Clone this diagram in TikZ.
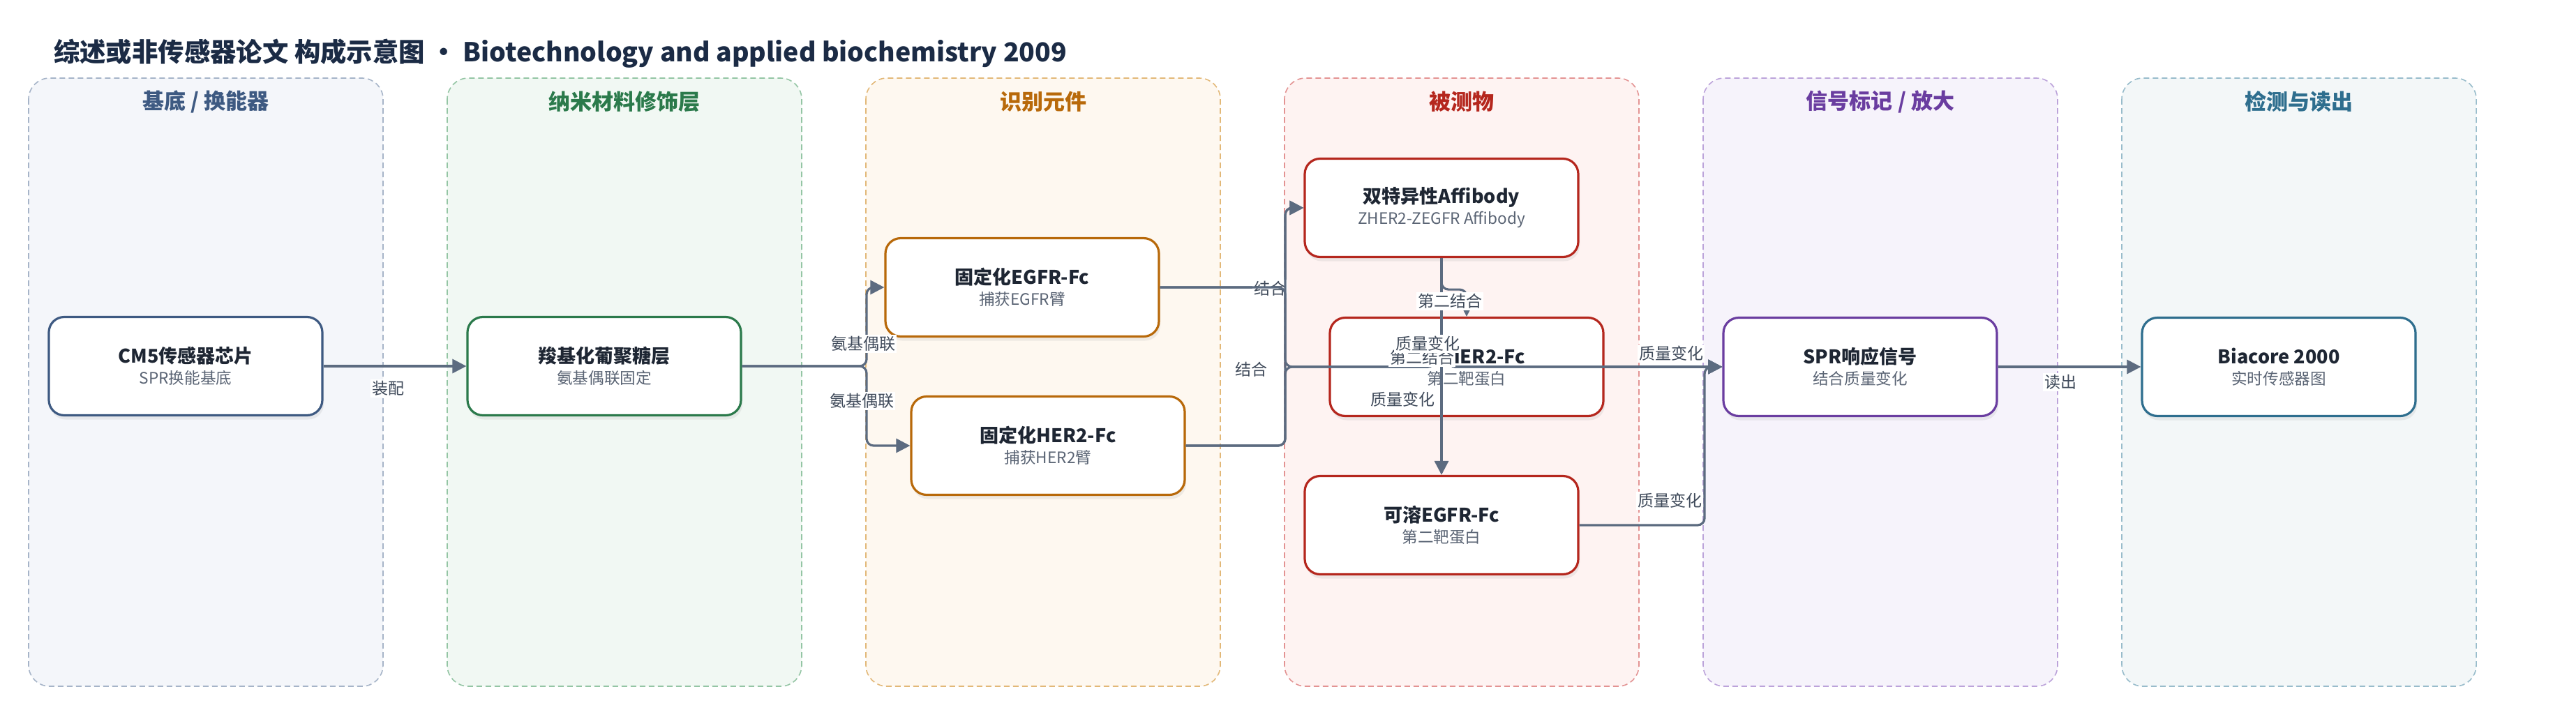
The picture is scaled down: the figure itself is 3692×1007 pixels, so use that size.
\documentclass[tikz,border=0pt]{standalone}
\usepackage{fontspec}
\setmainfont{Noto Sans CJK SC}
\usepackage{tikz}
\usetikzlibrary{arrows.meta, shadows}

\definecolor{titlecol}{HTML}{1B2B45}
\definecolor{nodetext}{HTML}{1E2633}
\definecolor{subcol}{HTML}{5A6474}
\definecolor{lblcol}{HTML}{3F4A5A}
\definecolor{linkcol}{HTML}{5C6B80}
\definecolor{laneAfill}{HTML}{F4F6FA}
\definecolor{laneAline}{HTML}{A6B4C8}
\definecolor{laneAtext}{HTML}{3E5A82}
\definecolor{laneBfill}{HTML}{F1F8F3}
\definecolor{laneBline}{HTML}{94C5A4}
\definecolor{laneBtext}{HTML}{2B7A4B}
\definecolor{laneCfill}{HTML}{FEF8F0}
\definecolor{laneCline}{HTML}{E2B878}
\definecolor{laneCtext}{HTML}{B8690A}
\definecolor{laneDfill}{HTML}{FEF3F2}
\definecolor{laneDline}{HTML}{E39393}
\definecolor{laneDtext}{HTML}{B5271E}
\definecolor{laneEfill}{HTML}{F6F3FB}
\definecolor{laneEline}{HTML}{BCA3DA}
\definecolor{laneEtext}{HTML}{6A3DA0}
\definecolor{laneFfill}{HTML}{F3F7F8}
\definecolor{laneFline}{HTML}{98BCCB}
\definecolor{laneFtext}{HTML}{2E6E8E}

\begin{document}
\begin{tikzpicture}[x=0.5pt, y=-0.5pt, line width=1pt,
    lane/.style={rounded corners=15pt, dash pattern=on 4pt off 2.5pt, line width=0.8pt},
    lanetitle/.style={font=\bfseries\fontsize{15.5}{18}\selectfont},
    box/.style={draw, fill=white, text=nodetext, line width=1.6pt, rounded corners=11pt,
      minimum width=196pt, minimum height=70.5pt, align=center,
      font=\fontsize{11.3}{13}\selectfont,
      drop shadow={shadow xshift=1pt, shadow yshift=-3pt, opacity=0.12}},
    link/.style={draw=linkcol, line width=1.6pt, rounded corners=5pt,
      -{Triangle[length=10pt, width=10pt]}},
    lbl/.style={fill=white, text=lblcol, inner sep=1pt, font=\fontsize{11.5}{13}\selectfont}]
    \useasboundingbox (0,0) rectangle (3692,1007);

    % draw lanes
    \filldraw[lane, draw=laneAline, fill=laneAfill] (41,112) rectangle (549,984);
    \filldraw[lane, draw=laneBline, fill=laneBfill] (641,112) rectangle (1149,984);
    \filldraw[lane, draw=laneCline, fill=laneCfill] (1241,112) rectangle (1749,984);
    \filldraw[lane, draw=laneDline, fill=laneDfill] (1841,112) rectangle (2349,984);
    \filldraw[lane, draw=laneEline, fill=laneEfill] (2441,112) rectangle (2949,984);
    \filldraw[lane, draw=laneFline, fill=laneFfill] (3041,112) rectangle (3549,984);

    \node[lanetitle, text=laneAtext] (laneA) at (295,146) {基底 / 换能器};
    \node[lanetitle, text=laneBtext] (laneB) at (895,146) {纳米材料修饰层};
    \node[lanetitle, text=laneCtext] (laneC) at (1495,146) {识别元件};
    \node[lanetitle, text=laneDtext] (laneD) at (2095,146) {被测物};
    \node[lanetitle, text=laneEtext] (laneE) at (2695,146) {信号标记 / 放大};
    \node[lanetitle, text=laneFtext] (laneF) at (3295,146) {检测与读出};

    % title
    \node[anchor=west, inner sep=0pt, text=titlecol, font=\bfseries\fontsize{18.7}{22}\selectfont]
      (title) at (76,77) {综述或非传感器论文 构成示意图 • Biotechnology and applied biochemistry 2009};

    % draw boxes
    \node[box, draw=laneAtext] (chip) at (266,525)
      {{\bfseries\fontsize{13.5}{16}\selectfont CM5传感器芯片}\\[2pt]{\color{subcol}SPR换能基底}};
    \node[box, draw=laneBtext] (dex) at (866,525)
      {{\bfseries\fontsize{13.5}{16}\selectfont 羧基化葡聚糖层}\\[2pt]{\color{subcol}氨基偶联固定}};
    \node[box, draw=laneCtext] (egfr) at (1465,412)
      {{\bfseries\fontsize{13.5}{16}\selectfont 固定化EGFR-Fc}\\[2pt]{\color{subcol}捕获EGFR臂}};
    \node[box, draw=laneCtext] (her2) at (1502,639)
      {{\bfseries\fontsize{13.5}{16}\selectfont 固定化HER2-Fc}\\[2pt]{\color{subcol}捕获HER2臂}};
    \node[box, draw=laneDtext] (affi) at (2066,298)
      {{\bfseries\fontsize{13.5}{16}\selectfont 双特异性Affibody}\\[2pt]{\color{subcol}ZHER2-ZEGFR Affibody}};
    \node[box, draw=laneDtext] (sher2) at (2102,526)
      {{\bfseries\fontsize{13.5}{16}\selectfont 可溶HER2-Fc}\\[2pt]{\color{subcol}第二靶蛋白}};
    \node[box, draw=laneDtext] (segfr) at (2066,753)
      {{\bfseries\fontsize{13.5}{16}\selectfont 可溶EGFR-Fc}\\[2pt]{\color{subcol}第二靶蛋白}};
    \node[box, draw=laneEtext] (spr) at (2666,526)
      {{\bfseries\fontsize{13.5}{16}\selectfont SPR响应信号}\\[2pt]{\color{subcol}结合质量变化}};
    \node[box, draw=laneFtext] (bia) at (3266,526)
      {{\bfseries\fontsize{13.5}{16}\selectfont Biacore 2000}\\[2pt]{\color{subcol}实时传感器图}};

    % bend points
    \coordinate (fork) at (1242,525);
    \coordinate (bus) at (1842,526);
    \coordinate (drop) at (2443,526);

    % draw links
    \draw[link] (chip.east) -- (dex.west);
    \node[lbl] (l-chip) at (556,557) {装配};

    \draw[link] (dex.east) -- (fork) |- (egfr.west);
    \draw[link] (dex.east) -- (fork) |- (her2.west);
    \node[lbl] (l-egfr) at (1237,493) {氨基偶联};
    \node[lbl] (l-her2) at (1235,575) {氨基偶联};

    \draw[link] (egfr.east) -- (egfr.east -| bus) |- (affi.west);
    \node[lbl] (l-egaf) at (1820,414) {结合};
    \draw[link] (her2.east) -| (bus) |- (affi.west);
    \node[lbl] (l-heaf) at (1793,530) {结合};

    \draw[link] (egfr.east) -| (bus) -- (2056,526) arc[start angle=180, end angle=0, radius=5pt] -- (spr.west);
    \draw[link] (her2.east) -| (bus) -- (2056,526) arc[start angle=180, end angle=0, radius=5pt] -- (spr.west);
    \draw[link] (sher2.east) -- (spr.west);
    \draw[link] (segfr.east) -| (drop) -- (spr.west);

    \draw[link] (affi.south) -- ++(0,45) -| (sher2.north);
    \draw[link] (affi.south) -- (segfr.north);
    \node[lbl] (l-afhe) at (2078,432) {第二结合};
    \node[lbl] (l-afeg) at (2038,513) {第二结合};

    \node[lbl] (l-egspr) at (2046,493) {质量变化};
    \node[lbl] (l-hespr) at (2010,573) {质量变化};
    \node[lbl] (l-shspr) at (2395,507) {质量变化};
    \node[lbl] (l-segspr) at (2393,718) {质量变化};

    \draw[link] (spr.east) -- (bia.west);
    \node[lbl] (l-read) at (2953,548) {读出};
\end{tikzpicture}
\end{document}
